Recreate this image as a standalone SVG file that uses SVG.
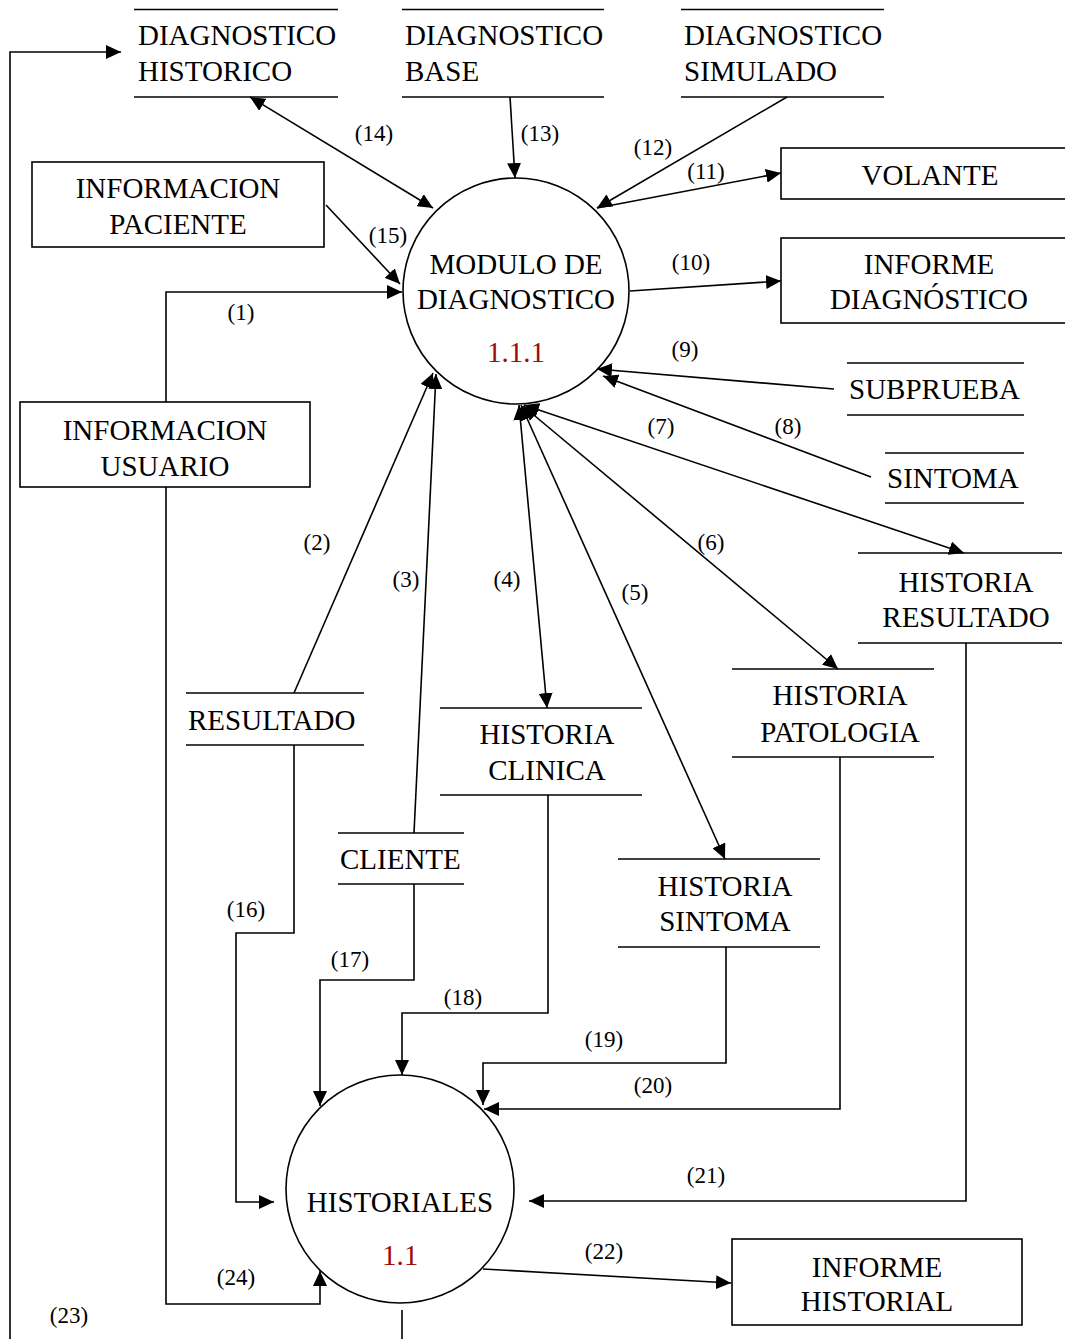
<svg xmlns="http://www.w3.org/2000/svg" width="1065" height="1339" viewBox="0 0 1065 1339">
  <style>
    .bg { fill: #ffffff; }
    .shape { fill: #ffffff; stroke: #000000; stroke-width: 1.6; }
    .store { stroke: #000000; stroke-width: 1.6; fill: none; }
    .flow { fill: none; stroke: #000000; stroke-width: 1.6; }
    .t { font-family: "Liberation Serif", "Times New Roman", serif; font-size: 29px; fill: #000000; }
    .c { text-anchor: middle; }
    .num { font-family: "Liberation Serif", "Times New Roman", serif; font-size: 29px; fill: #9b0d0d; text-anchor: middle; }
    .l { font-family: "Liberation Serif", "Times New Roman", serif; font-size: 23px; fill: #000000; text-anchor: middle; }
  </style>
  <defs>
    <marker id="arrow" markerUnits="userSpaceOnUse" markerWidth="15" markerHeight="14" viewBox="0 0 15 14" refX="15" refY="7" orient="auto-start-reverse">
      <path d="M0,0 L15,7 L0,14 z" fill="#000000"/>
    </marker>
  </defs>

  <rect class="bg" x="0" y="0" width="1065" height="1339"/>

  <!-- data flows -->
  <g id="connectors">
    <polyline id="f1" class="flow" points="166,402 166,292 402,292" marker-end="url(#arrow)"/>
    <line id="f2" class="flow" x1="294" y1="693" x2="433" y2="373" marker-end="url(#arrow)"/>
    <line id="f3" class="flow" x1="414" y1="833" x2="436" y2="374" marker-end="url(#arrow)"/>
    <line id="f4" class="flow" x1="519" y1="405" x2="547" y2="708" marker-start="url(#arrow)" marker-end="url(#arrow)"/>
    <line id="f5" class="flow" x1="521" y1="405" x2="725" y2="859" marker-start="url(#arrow)" marker-end="url(#arrow)"/>
    <line id="f6" class="flow" x1="523" y1="406" x2="838" y2="669" marker-start="url(#arrow)" marker-end="url(#arrow)"/>
    <line id="f7" class="flow" x1="524" y1="405" x2="964" y2="553" marker-start="url(#arrow)" marker-end="url(#arrow)"/>
    <line id="f8" class="flow" x1="871" y1="477" x2="603" y2="376" marker-end="url(#arrow)"/>
    <line id="f9" class="flow" x1="834" y1="389" x2="597" y2="369" marker-end="url(#arrow)"/>
    <line id="f10" class="flow" x1="630" y1="291" x2="781" y2="281" marker-end="url(#arrow)"/>
    <line id="f11" class="flow" x1="597" y1="208" x2="781" y2="173" marker-end="url(#arrow)"/>
    <line id="f12" class="flow" x1="787" y1="97" x2="597" y2="208" marker-end="url(#arrow)"/>
    <line id="f13" class="flow" x1="510" y1="97" x2="515" y2="178" marker-end="url(#arrow)"/>
    <line id="f14" class="flow" x1="250" y1="97" x2="433" y2="208" marker-start="url(#arrow)" marker-end="url(#arrow)"/>
    <line id="f15" class="flow" x1="326" y1="205" x2="400" y2="284" marker-end="url(#arrow)"/>
    <polyline id="f16" class="flow" points="294,745 294,933 236,933 236,1202 274,1202" marker-end="url(#arrow)"/>
    <polyline id="f17" class="flow" points="414,884 414,980 320,980 320,1106" marker-end="url(#arrow)"/>
    <polyline id="f18" class="flow" points="548,795 548,1013 402,1013 402,1075" marker-end="url(#arrow)"/>
    <polyline id="f19" class="flow" points="726,947 726,1063 483,1063 483,1105" marker-end="url(#arrow)"/>
    <polyline id="f20" class="flow" points="840,757 840,1109 484,1109" marker-end="url(#arrow)"/>
    <polyline id="f21" class="flow" points="966,643 966,1201 529,1201" marker-end="url(#arrow)"/>
    <line id="f22" class="flow" x1="483" y1="1269" x2="731" y2="1283" marker-end="url(#arrow)"/>
    <line id="f23a" class="flow" x1="402" y1="1310" x2="402" y2="1339"/>
    <polyline id="f23b" class="flow" points="10,1339 10,52 121,52" marker-end="url(#arrow)"/>
    <polyline id="f24" class="flow" points="166,487 166,1304 320,1304 320,1271" marker-end="url(#arrow)"/>

    <text class="l" x="241" y="320">(1)</text>
    <text class="l" x="317" y="550">(2)</text>
    <text class="l" x="406" y="587">(3)</text>
    <text class="l" x="507" y="587">(4)</text>
    <text class="l" x="635" y="600">(5)</text>
    <text class="l" x="711" y="550">(6)</text>
    <text class="l" x="661" y="434">(7)</text>
    <text class="l" x="788" y="434">(8)</text>
    <text class="l" x="685" y="357">(9)</text>
    <text class="l" x="691" y="270">(10)</text>
    <text class="l" x="706" y="179">(11)</text>
    <text class="l" x="653" y="155">(12)</text>
    <text class="l" x="540" y="141">(13)</text>
    <text class="l" x="374" y="141">(14)</text>
    <text class="l" x="388" y="243">(15)</text>
    <text class="l" x="246" y="917">(16)</text>
    <text class="l" x="350" y="967">(17)</text>
    <text class="l" x="463" y="1005">(18)</text>
    <text class="l" x="604" y="1047">(19)</text>
    <text class="l" x="653" y="1093">(20)</text>
    <text class="l" x="706" y="1183">(21)</text>
    <text class="l" x="604" y="1259">(22)</text>
    <text class="l" x="69" y="1323">(23)</text>
    <text class="l" x="236" y="1285">(24)</text>
  </g>

  <!-- processes -->
  <g id="modulo-diagnostico">
    <circle class="shape" cx="516" cy="291" r="113"/>
    <text class="t c" x="516" y="274">MODULO DE</text>
    <text class="t c" x="516" y="309">DIAGNOSTICO</text>
    <text class="num" x="516" y="362">1.1.1</text>
  </g>
  <g id="historiales">
    <circle class="shape" cx="400" cy="1189" r="114"/>
    <text class="t c" x="400" y="1212">HISTORIALES</text>
    <text class="num" x="400" y="1265">1.1</text>
  </g>

  <!-- external entities -->
  <g id="informacion-paciente">
    <rect class="shape" x="32" y="162" width="292" height="85"/>
    <text class="t c" x="178" y="198">INFORMACION</text>
    <text class="t c" x="178" y="234">PACIENTE</text>
  </g>
  <g id="informacion-usuario">
    <rect class="shape" x="20" y="402" width="290" height="85"/>
    <text class="t c" x="165" y="440">INFORMACION</text>
    <text class="t c" x="165" y="476">USUARIO</text>
  </g>
  <g id="volante">
    <rect class="shape" x="781" y="148" width="290" height="51"/>
    <text class="t c" x="930" y="185">VOLANTE</text>
  </g>
  <g id="informe-diagnostico">
    <rect class="shape" x="781" y="238" width="290" height="85"/>
    <text class="t c" x="929" y="274">INFORME</text>
    <text class="t c" x="929" y="309">DIAGNÓSTICO</text>
  </g>
  <g id="informe-historial">
    <rect class="shape" x="732" y="1239" width="290" height="86"/>
    <text class="t c" x="877" y="1277">INFORME</text>
    <text class="t c" x="877" y="1311">HISTORIAL</text>
  </g>

  <!-- data stores -->
  <g id="diagnostico-historico">
    <line class="store" x1="134" y1="9.5" x2="338" y2="9.5"/>
    <line class="store" x1="134" y1="97" x2="338" y2="97"/>
    <text class="t" x="138" y="45">DIAGNOSTICO</text>
    <text class="t" x="138" y="81">HISTORICO</text>
  </g>
  <g id="diagnostico-base">
    <line class="store" x1="402" y1="9.5" x2="604" y2="9.5"/>
    <line class="store" x1="402" y1="97" x2="604" y2="97"/>
    <text class="t" x="405" y="45">DIAGNOSTICO</text>
    <text class="t" x="405" y="81">BASE</text>
  </g>
  <g id="diagnostico-simulado">
    <line class="store" x1="681" y1="9.5" x2="884" y2="9.5"/>
    <line class="store" x1="681" y1="97" x2="884" y2="97"/>
    <text class="t" x="684" y="45">DIAGNOSTICO</text>
    <text class="t" x="684" y="81">SIMULADO</text>
  </g>
  <g id="subprueba">
    <line class="store" x1="847" y1="363" x2="1024" y2="363"/>
    <line class="store" x1="847" y1="415" x2="1024" y2="415"/>
    <text class="t" x="849" y="399">SUBPRUEBA</text>
  </g>
  <g id="sintoma">
    <line class="store" x1="885" y1="453" x2="1024" y2="453"/>
    <line class="store" x1="885" y1="503" x2="1024" y2="503"/>
    <text class="t" x="887" y="488">SINTOMA</text>
  </g>
  <g id="historia-resultado">
    <line class="store" x1="858" y1="553" x2="1062" y2="553"/>
    <line class="store" x1="858" y1="643" x2="1062" y2="643"/>
    <text class="t c" x="966" y="592">HISTORIA</text>
    <text class="t c" x="966" y="627">RESULTADO</text>
  </g>
  <g id="historia-patologia">
    <line class="store" x1="732" y1="669" x2="934" y2="669"/>
    <line class="store" x1="732" y1="757" x2="934" y2="757"/>
    <text class="t c" x="840" y="705">HISTORIA</text>
    <text class="t c" x="840" y="742">PATOLOGIA</text>
  </g>
  <g id="resultado">
    <line class="store" x1="186" y1="693" x2="364" y2="693"/>
    <line class="store" x1="186" y1="745" x2="364" y2="745"/>
    <text class="t" x="188" y="730">RESULTADO</text>
  </g>
  <g id="historia-clinica">
    <line class="store" x1="440" y1="708" x2="642" y2="708"/>
    <line class="store" x1="440" y1="795" x2="642" y2="795"/>
    <text class="t c" x="547" y="744">HISTORIA</text>
    <text class="t c" x="547" y="780">CLINICA</text>
  </g>
  <g id="cliente">
    <line class="store" x1="338" y1="833" x2="464" y2="833"/>
    <line class="store" x1="338" y1="884" x2="464" y2="884"/>
    <text class="t" x="340" y="869">CLIENTE</text>
  </g>
  <g id="historia-sintoma">
    <line class="store" x1="618" y1="859" x2="820" y2="859"/>
    <line class="store" x1="618" y1="947" x2="820" y2="947"/>
    <text class="t c" x="725" y="896">HISTORIA</text>
    <text class="t c" x="725" y="931">SINTOMA</text>
  </g>
</svg>
